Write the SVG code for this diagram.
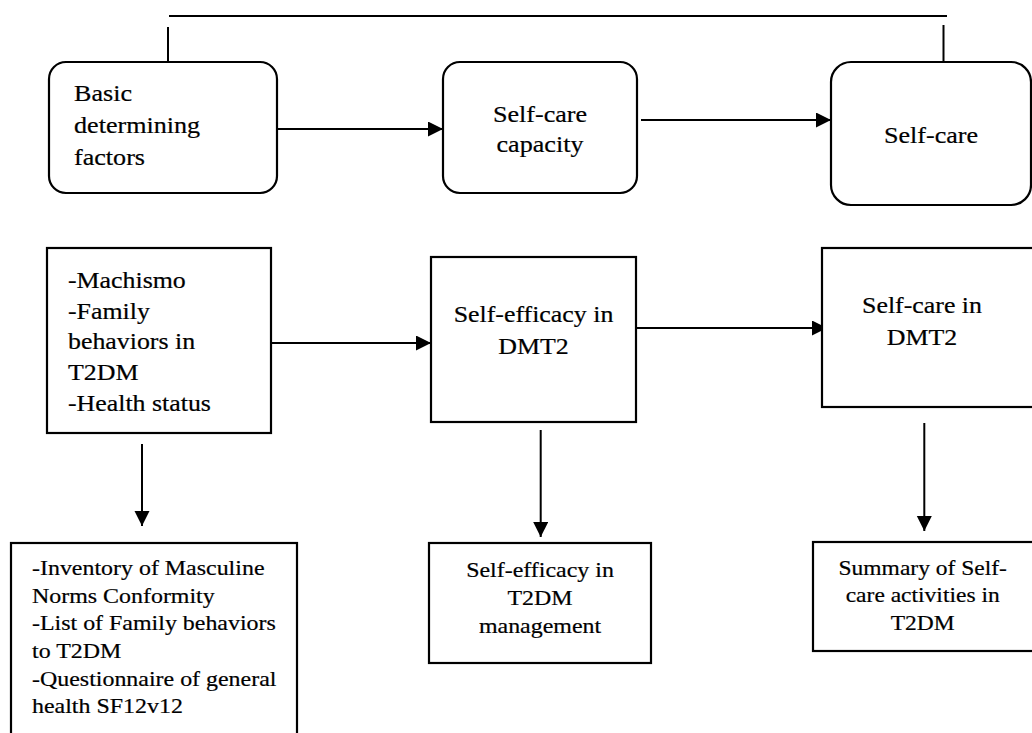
<svg xmlns="http://www.w3.org/2000/svg" width="1032" height="733" viewBox="0 0 1032 733">
<style>
.box{fill:#fff;stroke:#000;stroke-width:2.2}
.ln{fill:none;stroke:#000;stroke-width:2}
text{font-family:'Liberation Serif',serif;fill:#000;stroke:#000;stroke-width:0.2}
.big{font-size:22.5px}
.sm{font-size:21px}
.c{text-anchor:middle}
</style>
<defs>
<marker id="ah" markerUnits="userSpaceOnUse" markerWidth="16" markerHeight="16" refX="15" refY="7.5" orient="auto">
<path d="M0,0 L15,7.5 L0,15 z" fill="#000"/>
</marker>
</defs>
<rect width="1032" height="733" fill="#fff"/>
<g id="connectors">
<path class="ln" d="M169,16 H947"/>
<path class="ln" d="M168,27 V62"/>
<path class="ln" d="M943.5,25 V62"/>
<path class="ln" d="M278,129 H443" marker-end="url(#ah)"/>
<path class="ln" d="M641,120 H831" marker-end="url(#ah)"/>
<path class="ln" d="M271,343 H431" marker-end="url(#ah)"/>
<path class="ln" d="M636,328 H827" marker-end="url(#ah)"/>
<path class="ln" d="M142,444 V526" marker-end="url(#ah)"/>
<path class="ln" d="M540.7,430 V537" marker-end="url(#ah)"/>
<path class="ln" d="M924.3,423 V531" marker-end="url(#ah)"/>
</g>
<g id="basic-factors">
<rect class="box" x="49" y="62" width="228" height="131" rx="17"/>
<text class="big" transform="translate(74,101) scale(1.16,1)"><tspan x="0" y="0">Basic</tspan><tspan x="0" y="32">determining</tspan><tspan x="0" y="64">factors</tspan></text>
</g>
<g id="self-care-capacity">
<rect class="box" x="443" y="62" width="194" height="131" rx="17"/>
<text class="big c" transform="translate(540,122) scale(1.16,1)"><tspan x="0" y="0">Self-care</tspan><tspan x="0" y="30">capacity</tspan></text>
</g>
<g id="self-care">
<rect class="box" x="831" y="62" width="200" height="143" rx="20"/>
<text class="big c" transform="translate(931,143) scale(1.16,1)"><tspan x="0" y="0">Self-care</tspan></text>
</g>
<g id="determinants">
<rect class="box" x="47" y="248" width="224" height="185"/>
<text class="big" transform="translate(68,288) scale(1.15,1)"><tspan x="0" y="0">-Machismo</tspan><tspan x="0" y="30.7">-Family</tspan><tspan x="0" y="61.4">behaviors in</tspan><tspan x="0" y="92.1">T2DM</tspan><tspan x="0" y="122.8">-Health status</tspan></text>
</g>
<g id="self-efficacy">
<rect class="box" x="431" y="257" width="205" height="165"/>
<text class="big c" transform="translate(533.5,322) scale(1.15,1)"><tspan x="0" y="0">Self-efficacy in</tspan><tspan x="0" y="32.5">DMT2</tspan></text>
</g>
<g id="self-care-dmt2">
<rect class="box" x="822" y="248" width="215" height="159"/>
<text class="big c" transform="translate(922,313) scale(1.15,1)"><tspan x="0" y="0">Self-care in</tspan><tspan x="0" y="32">DMT2</tspan></text>
</g>
<g id="instruments">
<rect class="box" x="11" y="543" width="286" height="200"/>
<text class="sm" transform="translate(32,575) scale(1.14,1)"><tspan x="0" y="0">-Inventory of Masculine</tspan><tspan x="0" y="27.7">Norms Conformity</tspan><tspan x="0" y="55.4">-List of Family behaviors</tspan><tspan x="0" y="83.1">to T2DM</tspan><tspan x="0" y="110.8">-Questionnaire of general</tspan><tspan x="0" y="138.5">health SF12v12</tspan></text>
</g>
<g id="self-efficacy-scale">
<rect class="box" x="429" y="543" width="222" height="120"/>
<text class="sm c" transform="translate(540,576.5) scale(1.14,1)"><tspan x="0" y="0">Self-efficacy in</tspan><tspan x="0" y="28.2">T2DM</tspan><tspan x="0" y="56.4">management</tspan></text>
</g>
<g id="self-care-summary">
<rect class="box" x="813" y="542" width="225" height="109"/>
<text class="sm c" transform="translate(922.7,575) scale(1.12,1)"><tspan x="0" y="0">Summary of Self-</tspan><tspan x="0" y="27.5">care activities in</tspan><tspan x="0" y="55">T2DM</tspan></text>
</g>
</svg>
